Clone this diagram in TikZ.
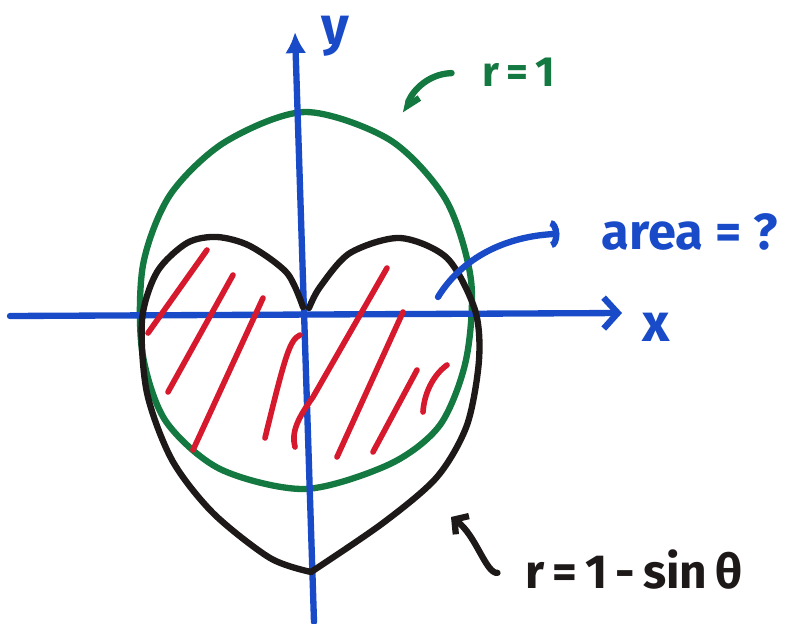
\documentclass[tikz,border=0pt]{standalone}
\usepackage{fontspec}
\setmainfont{Fira Sans}
\usetikzlibrary{positioning,arrows.meta}
\definecolor{penblue}{RGB}{25,75,200}
\definecolor{pengreen}{RGB}{20,120,65}
\definecolor{penred}{RGB}{215,25,45}
\definecolor{penblack}{RGB}{30,25,25}
\tikzset{
  pen/.style={line width=4.5pt,line cap=round,line join=round},
  hatch/.style={pen,penred,line width=4pt},
  handtext/.style={inner sep=0pt,anchor=center},
}
\begin{document}
\begin{tikzpicture}[x=0.025cm,y=-0.025cm]
        \useasboundingbox (0,0) rectangle (789,624);
        \draw[pen,pengreen] plot[smooth cycle] coordinates {(305,112) (390,140) (446,200) (471,280) (466,360) (440,425) (390,464) (305,489) (220,469) (165,420) (142,350) (143,265) (170,195) (225,142)};
        \draw[pen,penblue,-{Straight Barb[length=10pt,width=22pt]}] (10,316) -- (622,313) node[handtext,right=12pt,yshift=-10pt,font=\bfseries\fontsize{38}{40}\selectfont] (xlab) {x};
        \draw[pen,penblue,-{Latex[length=15pt,width=15pt]}] (314,622) -- (295,32);
        \node[handtext,penblue,font=\bfseries\fontsize{38}{42}\selectfont] (ylab) at (335,36) {y};
        \draw[pen,penblack] plot[smooth] coordinates {(303,307) (287,273) (250,246) (217,237) (187,243) (157,272) (142,320) (147,393) (172,460) (213,513) (270,558) (311,572)};
        \draw[pen,penblack] plot[smooth] coordinates {(309,308) (320,287) (350,253) (400,238) (447,258) (475,310) (479,360) (467,425) (437,477) (383,523) (311,572)};
        \draw[hatch] (207,250) -- (148,333);
        \draw[hatch] (233,275) -- (168,392);
        \draw[hatch] (263,298) -- (193,450);
        \draw[hatch] (300,335) .. controls (290,340) and (286,352) .. (265,438);
        \draw[hatch] (295,447) .. controls (291,432) and (298,418) .. (313,397) -- (387,268);
        \draw[hatch] (403,312) -- (337,457);
        \draw[hatch] (417,370) -- (373,452);
        \draw[hatch] (447,365) .. controls (432,376) and (424,395) .. (423,412);
        \node[handtext,pengreen,font=\bfseries\fontsize{30}{36}\selectfont] (rone) at (519,72) {r\,=\,1};
        \node[handtext,penblue,font=\bfseries\fontsize{36}{40}\selectfont] (area) at (690,232) {area = ?};
        \node[handtext,penblack,font=\bfseries\fontsize{34}{40}\selectfont] (rcard) at (634,570) {r\,=\,1\,-\,sin\,θ};
        \coordinate (circpt) at (406,113);
        \coordinate (areapt) at (438,297);
        \coordinate (cardpt) at (451,517);
        \draw[pen,pengreen,shorten <=22pt,-{Straight Barb[harpoon,length=7pt,width=14pt]}] (rone.west) .. controls (425,74) and (410,95) .. (circpt);
        \draw[pen,penblue,shorten >=30pt,-{Arc Barb[length=6pt,width=20pt]}] (areapt) .. controls (462,258) and (505,236) .. (area.west);
        \draw[pen,penblack,shorten <=20pt,-{Straight Barb[length=7pt,width=16pt]}] (rcard.west) .. controls (486,574) and (476,535) .. (cardpt);
    \end{tikzpicture}
\end{document}
